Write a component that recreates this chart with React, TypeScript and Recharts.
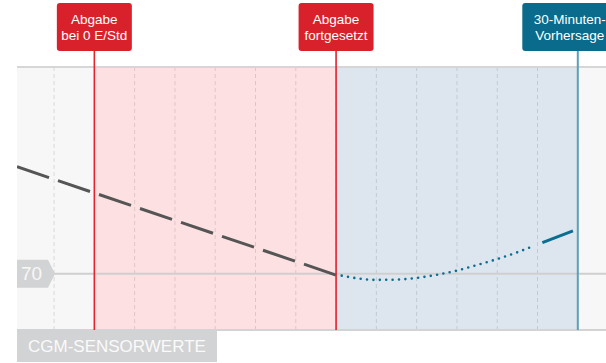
import React from 'react';
import { ComposedChart, Line, ReferenceArea, ReferenceLine, XAxis, YAxis } from 'recharts';

// minutes relative to "Abgabe fortgesetzt"
const minuteTicks = [-35, -30, -25, -20, -15, -10, -5, 0, 5, 10, 15, 20, 25, 30];
const xDomain = [-39.6, 33.5];
const yDomain = [50, 143.4];
const lowLimit = 70;

const historyTimes = [-39.6, 0];
const historyValues = [108.0, 69.5];

const forecastTimes = [0.7, 2.5, 5, 7.5, 10, 12.5, 15, 17.5, 20, 22.5, 24.4];
const forecastValues = [69.3, 68.4, 67.8, 67.9, 68.5, 69.6, 71.1, 73.1, 75.2, 77.6, 79.7];

const forecastEndTimes = [25.6, 29.4];
const forecastEndValues = [81.0, 85.2];

const suspendStart = -30;
const resumeAt = 0;
const forecastEnd = 30;

const markerTexts = [
  ['Abgabe', 'bei 0 E/Std'],
  ['Abgabe', 'fortgesetzt'],
  ['30-Minuten-', 'Vorhersage'],
];
const sectionTitle = 'CGM-SENSORWERTE';

const toRows = (ts: number[], vs: number[]) => ts.map((t, i) => ({ t, v: vs[i] }));

const FONT = '"Liberation Sans", Arial, Helvetica, sans-serif';

function MarkerTag(props: any) {
  const { viewBox, lines, fill, lineColor, lineWidth, boxWidth, shift } = props;
  if (!viewBox) return null;
  const x = viewBox.x;
  const cx = x + shift;
  const boxTop = 3;
  const boxH = 48;
  return (
    <g>
      <line x1={x} x2={x} y1={boxTop + boxH} y2={viewBox.y} stroke={lineColor} strokeWidth={lineWidth} />
      <rect x={cx - boxWidth / 2} y={boxTop} width={boxWidth} height={boxH} rx={3} fill={fill} />
      <text x={cx} y={24} textAnchor="middle" fill="#ffffff" fontSize={13.5} fontFamily={FONT}>
        {lines[0]}
      </text>
      <text x={cx} y={39.5} textAnchor="middle" fill="#ffffff" fontSize={13.5} fontFamily={FONT}>
        {lines[1]}
      </text>
    </g>
  );
}

function LimitTag(props: any) {
  const { viewBox, text } = props;
  if (!viewBox) return null;
  const x = viewBox.x;
  const y = viewBox.y;
  const pts = `${x},${y - 14} ${x + 31},${y - 14} ${x + 38},${y} ${x + 31},${y + 14} ${x},${y + 14}`;
  return (
    <g>
      <polygon points={pts} fill="#d2d3d4" />
      <text x={x + 4} y={y + 6} fill="#f7f7f7" fontSize={19} fontFamily={FONT}>
        {text}
      </text>
    </g>
  );
}

function SectionTag(props: any) {
  const { viewBox, text } = props;
  if (!viewBox) return null;
  const x = viewBox.x;
  const y = viewBox.y;
  return (
    <g>
      <rect x={x} y={y - 1} width={200} height={33} fill="#d2d3d4" />
      <text x={x + 11} y={y + 22} fill="#fafafa" fontSize={17} fontFamily={FONT}>
        {text}
      </text>
    </g>
  );
}

export default function App() {
  return (
    <div style={{ position: 'fixed', left: 0, top: 0, width: 606, height: 363, background: '#ffffff' }}>
      <ComposedChart width={606} height={363} margin={{ top: 67, right: 0, left: 17, bottom: 33 }}>
        <XAxis dataKey="t" type="number" domain={xDomain} ticks={minuteTicks} allowDataOverflow hide />
        <YAxis type="number" domain={yDomain} allowDataOverflow hide />

        <ReferenceArea x1={xDomain[0]} x2={xDomain[1]} fill="#f7f7f7" fillOpacity={1} />
        <ReferenceArea x1={suspendStart} x2={resumeAt} fill="#fde1e2" fillOpacity={1} />
        <ReferenceArea x1={resumeAt} x2={forecastEnd} fill="#dde6ee" fillOpacity={1} />

        {/* vertical dashed grid, every 5 minutes */}
        {minuteTicks.map((m) => (
          <ReferenceLine key={`g${m}`} x={m} stroke="rgba(0,0,0,0.12)" strokeDasharray="4 3" strokeWidth={1} />
        ))}

        <ReferenceLine y={yDomain[1]} stroke="#d6d6d6" strokeWidth={2} />
        <ReferenceLine
          y={yDomain[0]}
          stroke="#d3d3d3"
          strokeWidth={2}
          label={<SectionTag text={sectionTitle} />}
        />
        <ReferenceLine
          y={lowLimit}
          stroke="#cfcfcf"
          strokeWidth={2}
          label={<LimitTag text={String(lowLimit)} />}
        />

        <Line
          data={toRows(historyTimes, historyValues)}
          dataKey="v"
          type="linear"
          stroke="#555555"
          strokeWidth={3}
          strokeDasharray="33.8 9.5"
          dot={false}
          activeDot={false}
          isAnimationActive={false}
        />
        <Line
          data={toRows(forecastTimes, forecastValues)}
          dataKey="v"
          type="monotone"
          stroke="#0b6e91"
          strokeWidth={2.6}
          strokeLinecap="round"
          strokeDasharray="0 6.4"
          dot={false}
          activeDot={false}
          isAnimationActive={false}
        />
        <Line
          data={toRows(forecastEndTimes, forecastEndValues)}
          dataKey="v"
          type="linear"
          stroke="#0b6e91"
          strokeWidth={3}
          dot={false}
          activeDot={false}
          isAnimationActive={false}
        />

        <ReferenceLine
          x={suspendStart}
          stroke="#e3232e"
          strokeWidth={1.6}
          label={<MarkerTag lines={markerTexts[0]} fill="#d9212c" lineColor="#e3232e" lineWidth={1.6} boxWidth={75} shift={0} />}
        />
        <ReferenceLine
          x={resumeAt}
          stroke="#e3232e"
          strokeWidth={1.6}
          label={<MarkerTag lines={markerTexts[1]} fill="#d9212c" lineColor="#e3232e" lineWidth={1.6} boxWidth={75} shift={0} />}
        />
        <ReferenceLine
          x={forecastEnd}
          stroke="#5b9fb8"
          strokeWidth={2}
          label={<MarkerTag lines={markerTexts[2]} fill="#0a6b8c" lineColor="#5b9fb8" lineWidth={2} boxWidth={95} shift={-8} />}
        />
      </ComposedChart>
    </div>
  );
}
